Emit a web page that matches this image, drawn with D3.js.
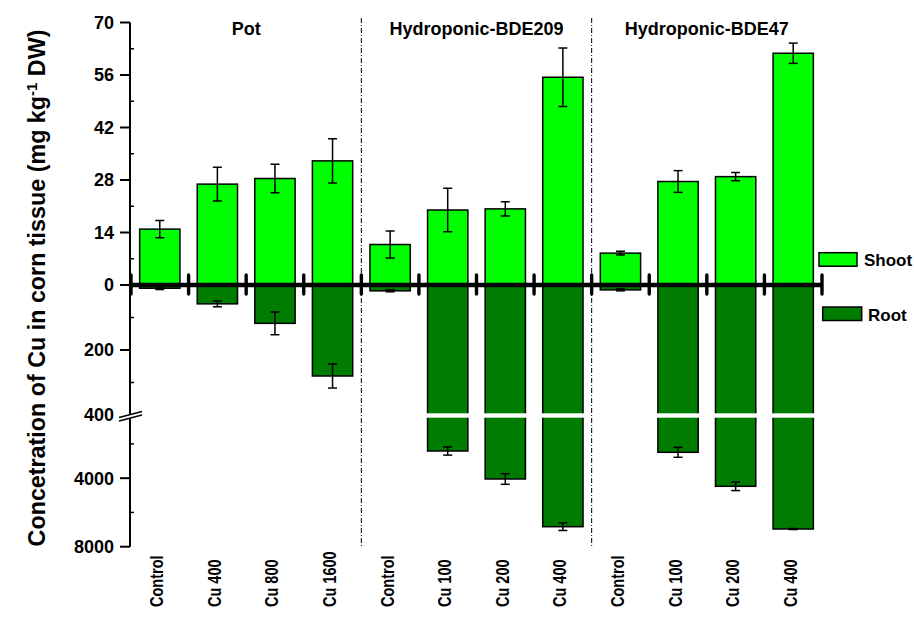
<!DOCTYPE html>
<html>
<head>
<meta charset="utf-8">
<script src="https://cdn.jsdelivr.net/npm/d3@7/dist/d3.min.js"></script>
<style>
body{margin:0;background:#fff;}
svg{display:block;font-family:"Liberation Sans",Arial,sans-serif;font-weight:bold;}
</style>
</head>
<body>
<div id="graph"></div>
<script>
var width=914, height=617;

// data
var groups=["Pot","Hydroponic-BDE209","Hydroponic-BDE47"];
var treatments=["Control","Cu 400","Cu 800","Cu 1600","Control","Cu 100","Cu 200","Cu 400","Control","Cu 100","Cu 200","Cu 400"];
var shoot=[14.9,26.9,28.4,33.1,10.8,20.0,20.3,55.4,8.5,27.6,28.9,61.8];
var shootErr=[2.3,4.5,3.8,5.9,3.6,5.8,1.9,7.8,0.5,2.9,1.1,2.7];
var root=[10,58,118,280,18,2414,4048,6832,15,2490,4474,6967];
var rootErr=[4,9,35,37,3,240,310,222,3,290,250,30];
var shootTicks=[0,14,28,42,56,70];
var rootTicksA=[200];
var rootTicksB=[4000,8000];
var legendItems=["Shoot","Root"];

var svg=d3.select('#graph').append('svg').attr('width',width).attr('height',height);

var x=d3.scaleBand().domain(d3.range(treatments.length)).range([131,822]).paddingInner(0.3).paddingOuter(0.15);
var yShoot=d3.scaleLinear().domain([0,70]).range([285,22.5]);
var yRootA=d3.scaleLinear().domain([0,400]).range([285,415]);
var yRootB=d3.scaleLinear().domain([400,8000]).range([416.5,546.7]);
function yRoot(v){ return v<=400 ? yRootA(v) : yRootB(v); }

var shootCol='#00ff00', rootCol='#007c00';
var step=x.step();

// separators
[4,8].forEach(function(i){
	var sx=131+i*step;
	svg.append('line').attr('x1',sx).attr('x2',sx).attr('y1',18).attr('y2',547)
		.attr('stroke','#000').attr('stroke-width',1).attr('stroke-dasharray','5,2,1,2');
});

// group titles
groups.forEach(function(g,k){
	svg.append('text').attr('x',131+(k*4+2)*step).attr('y',35)
		.attr('text-anchor','middle').attr('font-size',18).text(g);
});

var data=treatments.map(function(t,i){return {i:i,t:t,s:shoot[i],se:shootErr[i],r:root[i],re:rootErr[i]};});

// shoot bars
svg.selectAll('rect.shoot').data(data).enter().append('rect').attr('class','shoot')
	.attr('x',function(d){return x(d.i);})
	.attr('width',x.bandwidth())
	.attr('y',function(d){return yShoot(d.s);})
	.attr('height',function(d){return yShoot(0)-yShoot(d.s);})
	.attr('fill',shootCol).attr('stroke','#000').attr('stroke-width',1.5);

// root bars
svg.selectAll('rect.root').data(data).enter().append('rect').attr('class','root')
	.attr('x',function(d){return x(d.i);})
	.attr('width',x.bandwidth())
	.attr('y',285)
	.attr('height',function(d){return yRoot(d.r)-285;})
	.attr('fill',rootCol).attr('stroke','#000').attr('stroke-width',1.5);

// break gap in tall root bars
svg.selectAll('rect.gap').data(data.filter(function(d){return d.r>400;})).enter().append('rect')
	.attr('x',function(d){return x(d.i)-1.5;})
	.attr('width',x.bandwidth()+3)
	.attr('y',413.3).attr('height',4.4).attr('fill','#fff');

// error bars
function errBars(cls,getY,lo,hi){
	var g=svg.selectAll('g.'+cls).data(data).enter().append('g').attr('class',cls)
		.attr('stroke','#000').attr('stroke-width',1.5);
	g.append('line')
		.attr('x1',function(d){return x(d.i)+x.bandwidth()/2;})
		.attr('x2',function(d){return x(d.i)+x.bandwidth()/2;})
		.attr('y1',function(d){return getY(lo(d));})
		.attr('y2',function(d){return getY(hi(d));});
	[lo,hi].forEach(function(f){
		g.append('line')
			.attr('x1',function(d){return x(d.i)+x.bandwidth()/2-4.5;})
			.attr('x2',function(d){return x(d.i)+x.bandwidth()/2+4.5;})
			.attr('y1',function(d){return getY(f(d));})
			.attr('y2',function(d){return getY(f(d));});
	});
}
errBars('es',yShoot,function(d){return d.s-d.se;},function(d){return d.s+d.se;});
errBars('er',yRoot,function(d){return d.r-d.re;},function(d){return d.r+d.re;});

// zero line with category ticks
svg.append('line').attr('x1',130).attr('x2',822).attr('y1',285).attr('y2',285)
	.attr('stroke','#000').attr('stroke-width',4.3);
svg.selectAll('line.xt').data(d3.range(treatments.length+1)).enter().append('line').attr('class','xt')
	.attr('x1',function(i){return 131+i*step;}).attr('x2',function(i){return 131+i*step;})
	.attr('y1',275).attr('y2',294)
	.attr('stroke','#000').attr('stroke-width',3.4).attr('stroke-linecap','round');

// y axis
svg.append('line').attr('x1',130).attr('x2',130).attr('y1',22.5).attr('y2',546.7)
	.attr('stroke','#000').attr('stroke-width',2);
var majors=shootTicks.map(function(v){return {y:yShoot(v),t:v};})
	.concat(rootTicksA.map(function(v){return {y:yRootA(v),t:v};}))
	.concat(rootTicksB.map(function(v){return {y:yRootB(v),t:v};}));
svg.selectAll('line.yt').data(majors).enter().append('line')
	.attr('x1',120).attr('x2',130).attr('y1',function(d){return d.y;}).attr('y2',function(d){return d.y;})
	.attr('stroke','#000').attr('stroke-width',2);
svg.selectAll('text.yl').data(majors.concat([{y:414.5,t:400}])).enter().append('text')
	.attr('x',114).attr('y',function(d){return d.y;}).attr('dy','0.36em')
	.attr('text-anchor','end').attr('font-size',18).text(function(d){return d.t;});
var minors=[7,21,35,49,63].map(function(v){return yShoot(v);})
	.concat([100,300].map(function(v){return yRootA(v);}))
	.concat([2000,6000].map(function(v){return yRootB(v);}));
svg.selectAll('line.ym').data(minors).enter().append('line')
	.attr('x1',130).attr('x2',134).attr('y1',function(d){return d;}).attr('y2',function(d){return d;})
	.attr('stroke','#000').attr('stroke-width',1.5);

// axis break mark
svg.append('polygon').attr('points','119,417.5 142,411.5 142,415 119,421').attr('fill','#fff');
svg.append('line').attr('x1',119).attr('y1',417.5).attr('x2',142).attr('y2',411.5).attr('stroke','#000').attr('stroke-width',1.5);
svg.append('line').attr('x1',119).attr('y1',421).attr('x2',142).attr('y2',415).attr('stroke','#000').attr('stroke-width',1.5);

// x labels
svg.selectAll('text.xl').data(data).enter().append('text')
	.attr('transform',function(d){return 'translate('+(x(d.i)+x.bandwidth()/2+3.5)+',607) rotate(-90) scale(1,1.25)';})
	.attr('text-anchor','start').attr('font-size',14.5).text(function(d){return d.t;});

// y title
var yt=svg.append('text').attr('transform','translate(45,288) rotate(-90)')
	.attr('text-anchor','middle').attr('font-size',23.3);
yt.append('tspan').text('Concetration of Cu in corn tissue (mg kg');
yt.append('tspan').attr('font-size',15).attr('dy',-8.5).text('-1');
yt.append('tspan').attr('dy',8.5).text(' DW)');

// legend
var leg=[{x:819,y:252.7,w:38,t:legendItems[0],c:shootCol,tx:864,ty:266},
	{x:822.7,y:307,w:39,t:legendItems[1],c:rootCol,tx:868,ty:321}];
leg.forEach(function(l){
	svg.append('rect').attr('x',l.x).attr('y',l.y).attr('width',l.w).attr('height',13.5)
		.attr('fill',l.c).attr('stroke','#000').attr('stroke-width',1.5);
	svg.append('text').attr('x',l.tx).attr('y',l.ty).attr('font-size',17).text(l.t);
});
</script>
</body>
</html>
